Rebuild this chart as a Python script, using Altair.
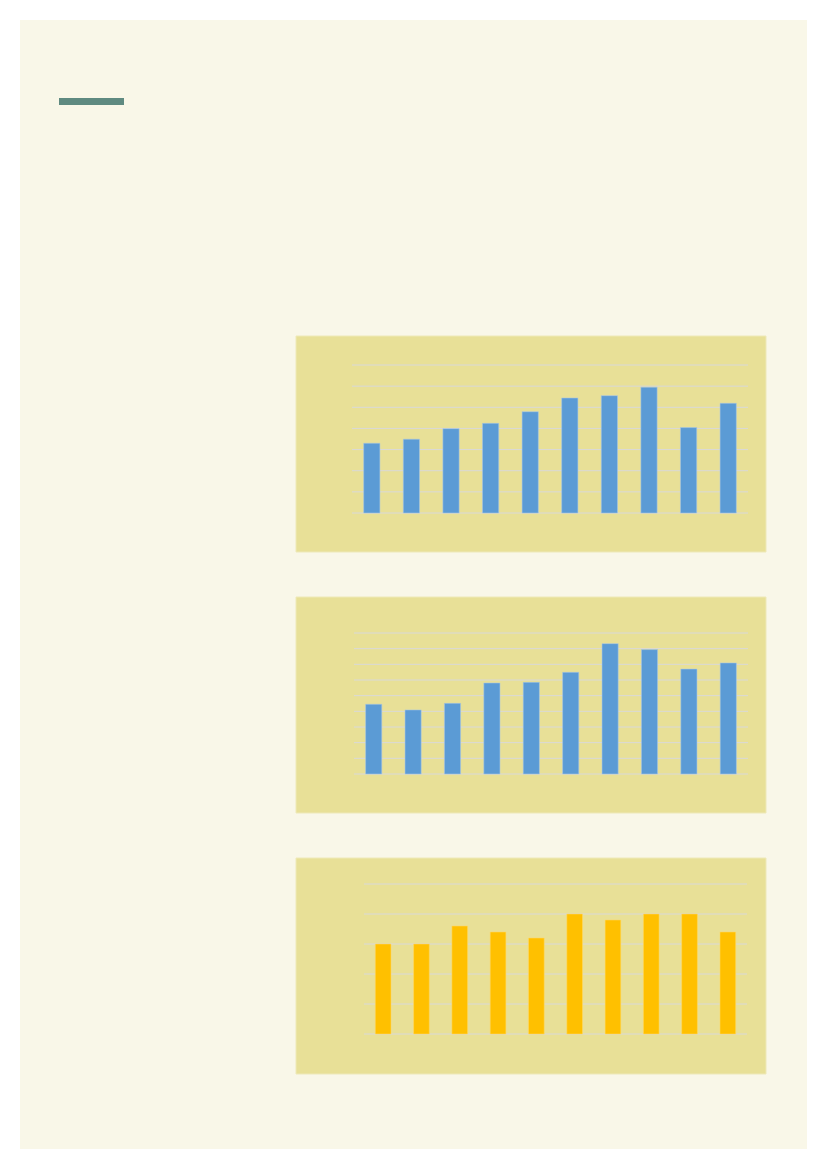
import altair as alt
import pandas as pd

# ---- data ----
categories = ["1", "2", "3", "4", "5", "6", "7", "8", "9", "10"]
values_1 = [3.30, 3.49, 3.99, 4.24, 4.79, 5.44, 5.55, 5.95, 4.04, 5.19]
values_2 = [4.45, 4.09, 4.51, 5.81, 5.85, 6.49, 8.32, 7.94, 6.70, 7.09]
values_3 = [3.0, 3.0, 3.6, 3.4, 3.2, 4.0, 3.8, 4.0, 4.0, 3.4]
grid_1 = [0, 1, 2, 3, 4, 5, 6, 7]
grid_2 = [0, 1, 2, 3, 4, 5, 6, 7, 8, 9]
grid_3 = [0, 1, 2, 3, 4, 5]

PAGE = "#F9F7E8"
PANEL = "#E8E097"
GRID = "#D9D9D9"
BLUE = "#5B9BD5"
GOLD = "#FFC000"
ACCENT = "#5F8A80"

one = pd.DataFrame({"k": [0]})
W = 396


def panel(values, grid, ymax, color, stroke, height, xr, box, axis, extra=()):
    df = pd.DataFrame({"cat": categories, "val": values})
    gdf = pd.DataFrame({"g": grid})
    xs = alt.Scale(domain=categories, paddingInner=0.59, paddingOuter=0.295, range=list(xr))
    ys = alt.Scale(domain=[0, ymax], nice=False, zero=True)
    bg = alt.Chart(one).mark_rect(color=PANEL, stroke="#EEE9B8", strokeWidth=1).encode(
        x=alt.value(box[0]), x2=alt.value(box[1]),
        y=alt.value(box[2]), y2=alt.value(box[3]),
    )
    rules = alt.Chart(gdf).mark_rule(color=GRID, strokeWidth=1).encode(
        y=alt.Y("g:Q", scale=ys, axis=None),
        x=alt.value(xr[0]), x2=alt.value(xr[1]),
    )
    bars = alt.Chart(df).mark_bar(
        color=color, stroke=stroke, strokeWidth=0.8, strokeOpacity=0.7
    ).encode(
        x=alt.X("cat:N", scale=xs, sort=categories, axis=axis, title=None),
        y=alt.Y("val:Q", scale=ys, axis=None),
    )
    return alt.layer(*extra, bg, rules, bars).properties(width=W, height=height)


axis_2 = alt.Axis(labels=False, domain=False, grid=False, ticks=True,
                  tickColor=GRID, tickSize=3, tickBand="extent", title=None)
axis_3 = alt.Axis(labels=False, domain=False, grid=False, ticks=True,
                  tickColor=GRID, tickSize=4, tickBand="extent", title=None)

page_bg = alt.Chart(one).mark_rect(color=PAGE).encode(
    x=alt.value(-332), x2=alt.value(455), y=alt.value(-345), y2=alt.value(784)
)
accent = alt.Chart(one).mark_rect(color=ACCENT).encode(
    x=alt.value(-293), x2=alt.value(-228), y=alt.value(-267), y2=alt.value(-260)
)

p1 = panel(values_1, grid_1, 7, BLUE, "#A9C8E8", 148, (0, 396),
           (-56, 414, -29, 187), None, extra=(page_bg, accent))
p2 = panel(values_2, grid_2, 9 * 151 / 141, BLUE, "#A9C8E8", 151, (2, 396),
           (-56, 414, -26, 190), axis_2)
p3 = panel(values_3, grid_3, 5, GOLD, "#FFD966", 150, (12, 395),
           (-56, 414, -26, 190), axis_3)

chart = alt.vconcat(p1, p2, p3, spacing=110, bounds="flush").resolve_scale(
    x="independent", y="independent"
).properties(
    padding=12, background="white"
).configure_view(stroke=None)

chart.save("out.html", embed_options={"renderer": "svg", "actions": False})
